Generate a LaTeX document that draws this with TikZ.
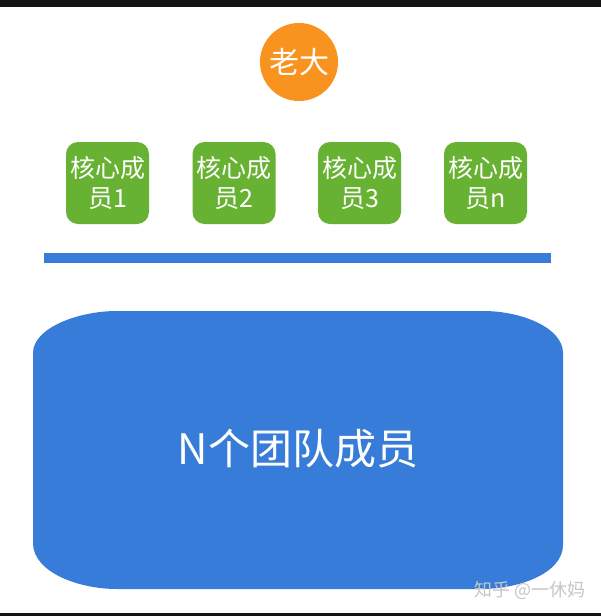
\documentclass[tikz,border=0pt]{standalone}
\usepackage{fontspec}
\setmainfont{Noto Sans CJK SC}
\definecolor{bossor}{HTML}{F7931E}
\definecolor{coregr}{HTML}{67B233}
\definecolor{teambl}{HTML}{377CD8}
\definecolor{barblk}{HTML}{141414}
\begin{document}
\begin{tikzpicture}[x=1pt,y=-1pt,
  corebox/.style={fill=coregr,rounded corners=12pt,minimum width=83pt,minimum height=82pt,
    inner sep=0pt,text=white,align=center,font=\fontsize{25}{30}\selectfont},
  boss/.style={circle,fill=bossor,minimum size=78pt,inner sep=0pt,text=white,
    font=\fontsize{30}{32}\selectfont}]
\useasboundingbox (0,0) rectangle (601,616);
\fill[white] (0,0) rectangle (601,616);
\fill[barblk] (0,0) rectangle (601,7);
\fill[barblk] (0,613) rectangle (601,616);
\node[boss] (boss) at (299,62) {老大};
\node[corebox] (c1) at (107.5,183) {核心成\\员1};
\node[corebox] (c2) at (234,183) {核心成\\员2};
\node[corebox] (c3) at (359.5,183) {核心成\\员3};
\node[corebox] (cn) at (485.5,183) {核心成\\员n};
\fill[teambl] (44,253) rectangle (551,263);
\fill[teambl] (33,353) .. controls (33,328) and (78,311) .. (117,311) -- (483,311)
  .. controls (522,311) and (563,328) .. (563,353) -- (563,545)
  .. controls (563,572) and (522,589) .. (480,589) -- (117,589)
  .. controls (78,589) and (33,572) .. (33,543) -- cycle;
\node[text=white,font=\fontsize{42}{46}\selectfont] (team) at (298,449) {N个团队成员};
\node[text=gray!45,font=\fontsize{18}{20}\selectfont] (wm) at (530,590) {知乎 @一休妈};
\end{tikzpicture}
\end{document}
